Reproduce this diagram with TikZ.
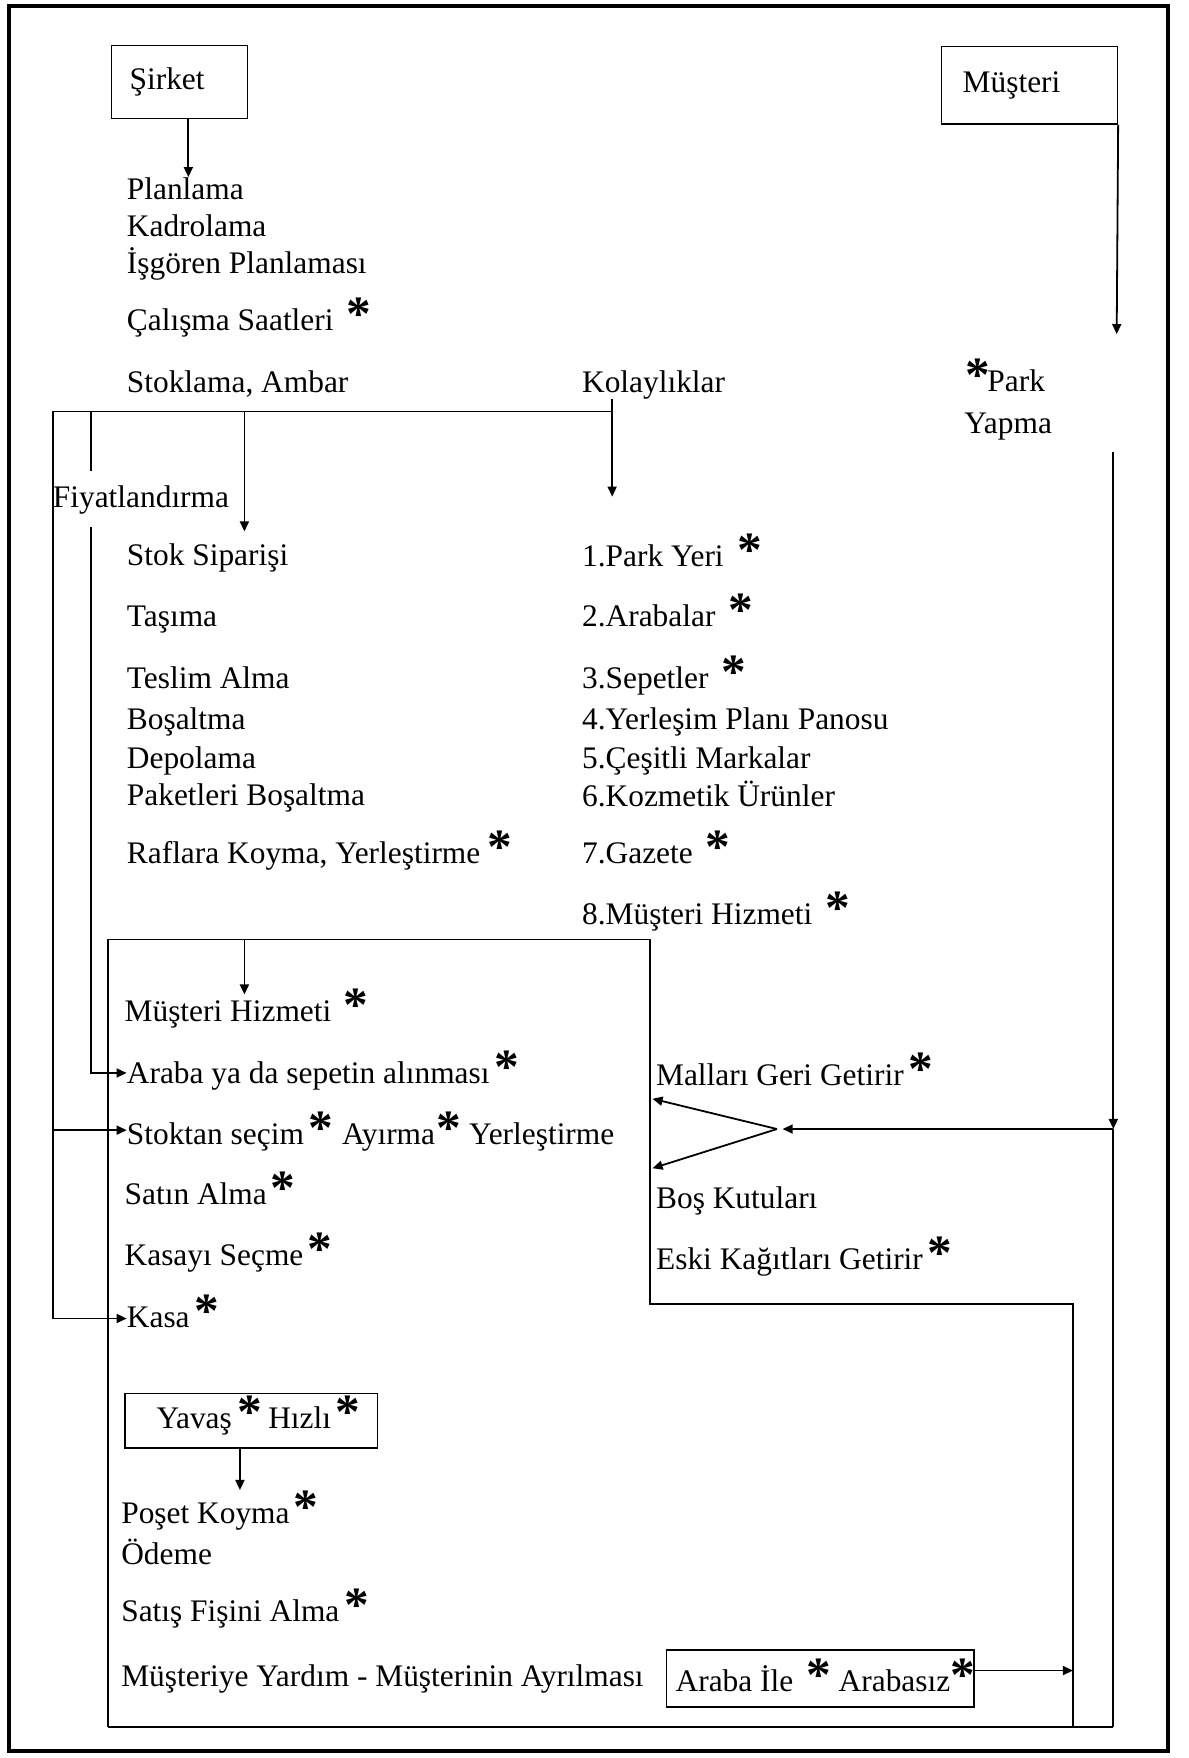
\documentclass[tikz,border=0pt]{standalone}
\usepackage{fontspec}
\setmainfont{Liberation Serif}
\usetikzlibrary{arrows.meta,calc}
% bold asterisk marker, raised like in typewritten forms; #1 = gap before it
\newcommand{\yildiz}[1]{\hspace{#1pt}\smash{\fontsize{44}{44}\selectfont\bfseries *}}
\begin{document}
\begin{tikzpicture}[x=1pt,y=-1pt,
  yazi/.style={anchor=base west,inner sep=0pt,font=\fontsize{28}{33}\selectfont},
  kutu/.style={draw,line width=1.3pt,anchor=north west,inner ysep=0pt,font=\fontsize{28}{33}\selectfont},
  hat/.style={line width=1.6pt},
  ok/.style={hat,-{Triangle[length=9pt,width=8pt]}},
  cerceve/.style={line width=3.5pt}]
\useasboundingbox (0,0) rectangle (1060,1568);
\draw[cerceve] (8,5) rectangle (1042,1562);

% ---- boxes
\node[kutu,inner xsep=16pt,minimum height=65pt] (sirket) at (99,40) {\makebox[89pt][l]{Şirket}};
\node[kutu,inner xsep=19pt,minimum height=69pt] (musteri) at (839,41) {\makebox[119pt][l]{Müşteri}};
\node[kutu,inner xsep=28pt,minimum height=49pt] (yavas) at (111,1242) {\makebox[169pt][l]{Yavaş\yildiz{5}\hspace{5.5pt}Hızlı\yildiz{3.5}}};
\node[kutu,inner xsep=8pt,minimum height=51pt] (arabakutu) at (594,1471) {\makebox[258pt][l]{Araba İle\yildiz{11.5}\hspace{7pt}Arabasız\yildiz{0.5}}};

% ---- company side
\node[yazi] (planlama) at (113,178) {Planlama};
\node[yazi] (kadrolama) at (113,211) {Kadrolama};
\node[yazi] (isgoren) at (113,244) {İşgören Planlaması};
\node[yazi] (calisma) at (113,295) {Çalışma Saatleri\yildiz{11.5}};
\node[yazi] (stoklama) at (113,350) {Stoklama, Ambar};
\node[yazi] (kolayliklar) at (519,350) {Kolaylıklar};
\node[yazi] (park) at (860.5,349) {\yildiz{0}\hspace{-2pt}Park};
\node[yazi] (yapma) at (860,387) {Yapma};
\node[yazi] (fiyat) at (47,453) {Fiyatlandırma};

% ---- stock column
\node[yazi] (stoksip) at (113,504) {Stok Siparişi};
\node[yazi] (tasima) at (113,559) {Taşıma};
\node[yazi] (teslim) at (113,614) {Teslim Alma};
\node[yazi] (bosaltma) at (113,651) {Boşaltma};
\node[yazi] (depolama) at (113,685) {Depolama};
\node[yazi] (paketler) at (113,718) {Paketleri Boşaltma};
\node[yazi] (raflar) at (113,770) {Raflara Koyma, Yerleştirme\yildiz{6}};

% ---- facilities column
\node[yazi] (k1) at (519,505) {1.Park Yeri\yildiz{12.5}};
\node[yazi] (k2) at (519,559) {2.Arabalar\yildiz{11.5}};
\node[yazi] (k3) at (519,614) {3.Sepetler\yildiz{11.5}};
\node[yazi] (k4) at (519,651) {4.Yerleşim Planı Panosu};
\node[yazi] (k5) at (519,685) {5.Çeşitli Markalar};
\node[yazi] (k6) at (519,719) {6.Kozmetik Ürünler};
\node[yazi] (k7) at (519,770) {7.Gazete\yildiz{11.5}};
\node[yazi] (k8) at (519,825) {8.Müşteri Hizmeti\yildiz{11.5}};

% ---- store floor
\node[yazi] (mhizmet) at (111,911) {Müşteri Hizmeti\yildiz{10.5}};
\node[yazi] (araba) at (113,966) {Araba ya da sepetin alınması\yildiz{4.5}};
\node[yazi] (stoktan) at (113,1021) {Stoktan seçim\yildiz{4.5}\hspace{7.5pt}Ayırma\yildiz{1}\hspace{7.5pt}Yerleştirme};
\node[yazi] (satin) at (111,1074) {Satın Alma\yildiz{3.5}};
\node[yazi] (kasayi) at (111,1129) {Kasayı Seçme\yildiz{3.5}};
\node[yazi] (kasa) at (113,1184) {Kasa\yildiz{4.5}};
\node[yazi] (mallari) at (585,968) {Malları Geri Getirir\yildiz{4.5}};
\node[yazi] (boskutu) at (585,1078) {Boş Kutuları};
\node[yazi] (eski) at (585,1132) {Eski Kağıtları Getirir\yildiz{4.5}};

% ---- checkout
\node[yazi] (poset) at (108,1359) {Poşet Koyma\yildiz{3.5}};
\node[yazi] (odeme) at (108,1395) {Ödeme};
\node[yazi] (satis) at (108,1446) {Satış Fişini Alma\yildiz{4.5}};
\node[yazi] (yardim) at (108,1504) {Müşteriye Yardım - Müşterinin Ayrılması};

% ---- junctions and arrow ends
\coordinate (planlamaOk) at (168,158);
\coordinate (parkOk) at (996,298);
\coordinate (dA) at (47,367);
\coordinate (dB) at (81,367);
\coordinate (dC) at (218,367);
\coordinate (dD) at (546,367);
\coordinate (kolOk) at (546,443);
\coordinate (stokOk) at (218,474);
\coordinate (fiyatUst) at (81,420);
\coordinate (fiyatAlt) at (81,470);
\coordinate (arabaOk) at ($(araba.base west)+(0,-9)$);
\coordinate (stoktanOk) at ($(stoktan.base west)+(0,-13)$);
\coordinate (kasaOk) at ($(kasa.base west)+(0,-8)$);
\coordinate (iA) at (96,838);
\coordinate (iB) at (580,838);
\coordinate (iC) at (580,1163);
\coordinate (iD) at (957,1163);
\coordinate (iE) at (957,1540);
\coordinate (iF) at (96,1540);
\coordinate (iHiz) at (218,838);
\coordinate (mhOk) at (218,887);
\coordinate (sagUst) at (993,403);
\coordinate (kavsak) at (993,1007);
\coordinate (sagAlt) at (993,1540);
\coordinate (catal) at (698,1007);
\coordinate (catalK) at (693,1007);
\coordinate (geriOk) at (582,980);
\coordinate (bosOk) at (582,1042);
\coordinate (posetOk) at (214,1329);
\coordinate (arabaCik) at ($(arabakutu.north east)+(0,19)$);

% ---- connectors
\draw[ok] (sirket.south -| planlamaOk) -- (planlamaOk);
\draw[ok] (musteri.south east) -- (parkOk);
\draw[hat] (dA) -- (dD);
\draw[ok] (kolayliklar.south -| kolOk) -- (kolOk);
\draw[ok] (dC) -- (stokOk);
\draw[hat] (dB) -- (fiyatUst);
\draw[ok] (fiyatAlt) -- (fiyatAlt |- arabaOk) -- (arabaOk);
\draw[ok] (dA) -- (dA |- kasaOk) -- (kasaOk);
\draw[ok] (dA |- stoktanOk) -- (stoktanOk);
\draw[hat] (iF) -- (iA) -- (iB) -- (iC) -- (iD) -- (iE);
\draw[hat] (iF) -- (sagAlt);
\draw[ok] (iHiz) -- (mhOk);
\draw[ok] (sagUst) -- (kavsak);
\draw[hat] (kavsak) -- (sagAlt);
\draw[ok] (kavsak) -- (catal);
\draw[ok] (catalK) -- (geriOk);
\draw[ok] (catalK) -- (bosOk);
\draw[ok] (yavas.south -| posetOk) -- (posetOk);
\draw[ok] (arabaCik) -- (arabaCik -| iD);
\end{tikzpicture}
\end{document}
